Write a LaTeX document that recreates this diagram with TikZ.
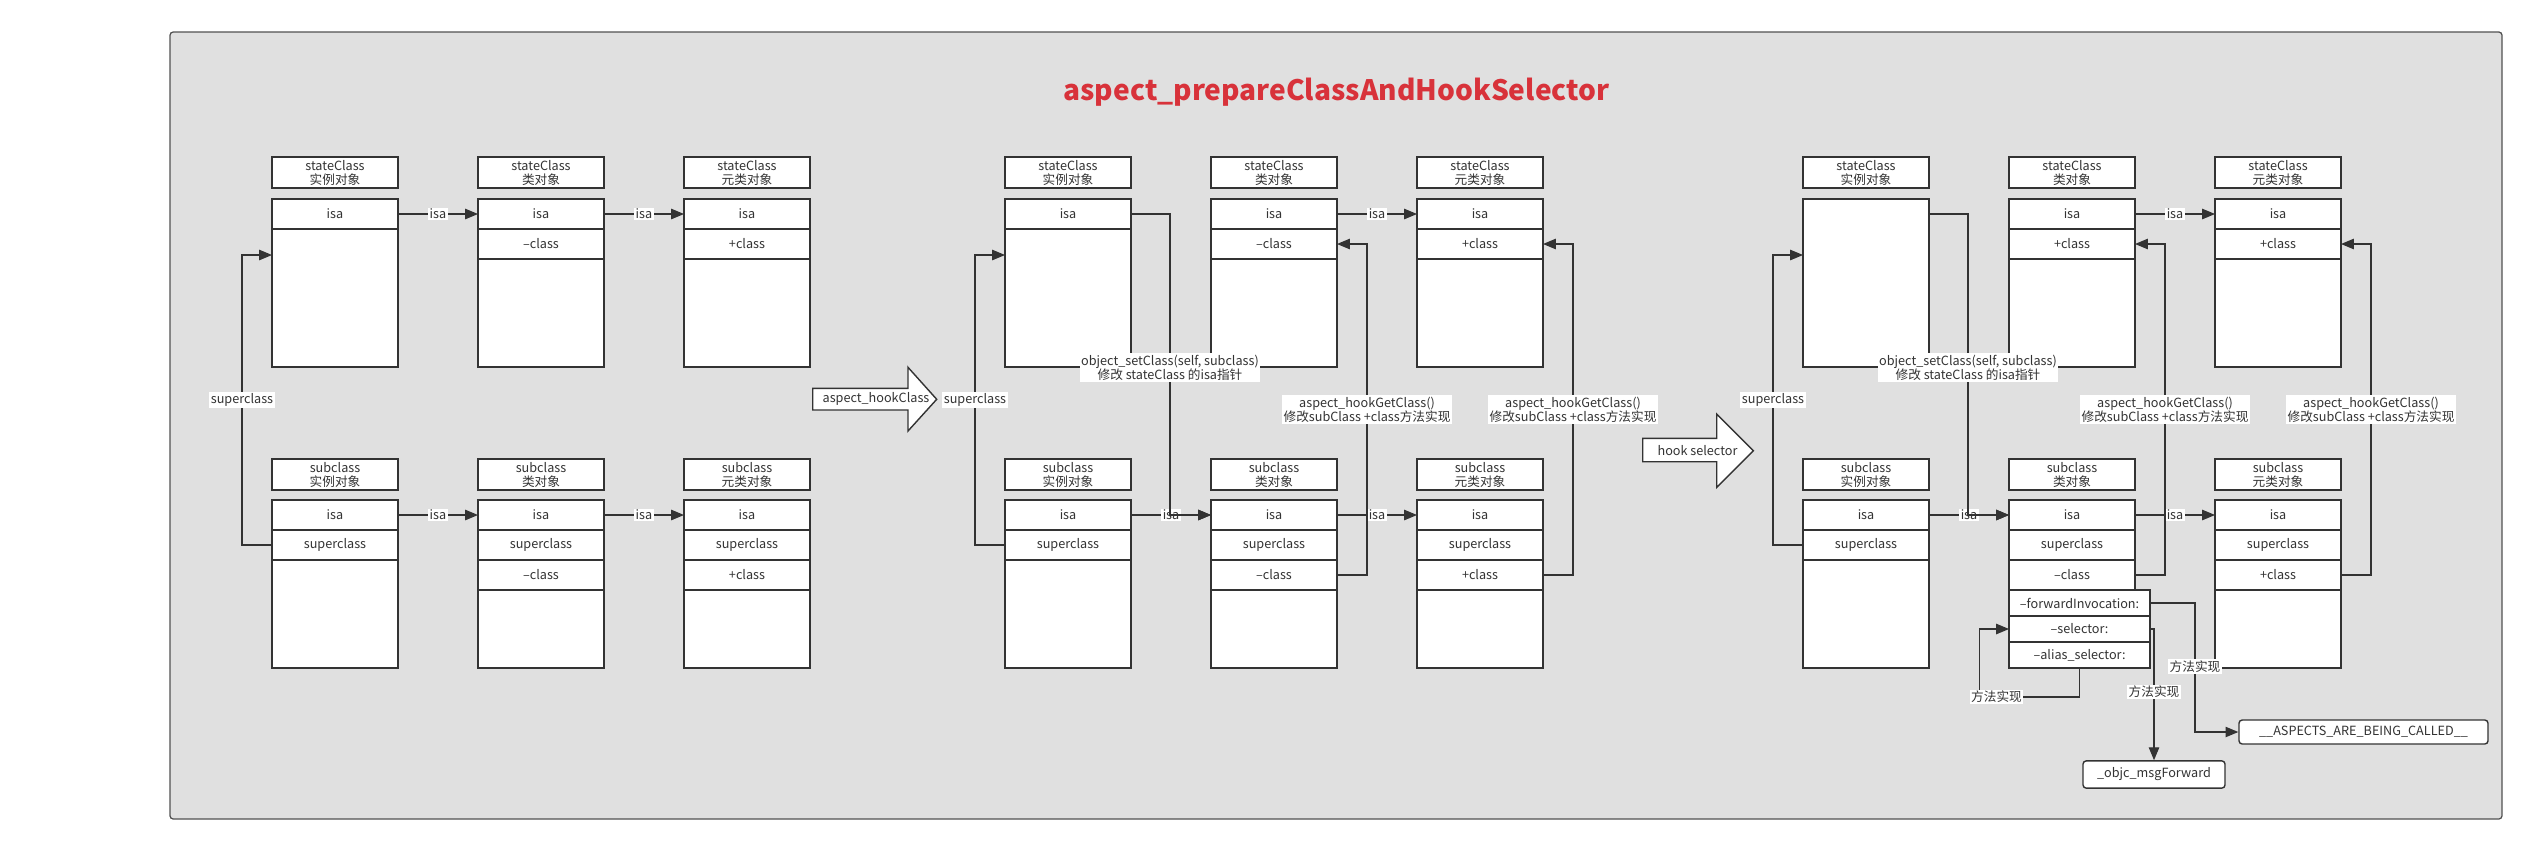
\documentclass[tikz,border=0pt]{standalone}
\usepackage{fontspec}
\setmainfont{Noto Sans CJK SC}
\usetikzlibrary{positioning,arrows.meta}

\definecolor{bgc}{HTML}{E0E0E0}
\definecolor{linec}{HTML}{333333}
\definecolor{titlec}{HTML}{D8323A}

\tikzset{
  outerframe/.style={draw=linec!85, fill=bgc, line width=0.9pt, rounded corners=0.8mm},
  namebox/.style={draw=linec, fill=white, text=linec, line width=1pt, minimum width=31.5mm, minimum height=7.75mm,
    inner sep=0pt, outer sep=0pt, align=center, font=\fontsize{9}{10}\selectfont},
  body/.style={draw=linec, fill=white, line width=1pt, minimum width=31.5mm, minimum height=42mm,
    inner sep=0pt, outer sep=0pt, anchor=north},
  rowbox/.style={draw=linec, fill=white, text=linec, line width=1pt, minimum width=31.5mm, minimum height=7.5mm,
    inner sep=0pt, outer sep=0pt, font=\fontsize{9}{10}\selectfont},
  widerow/.style={rowbox, minimum width=35.25mm, minimum height=6.5mm},
  conn/.style={draw=linec, line width=0.8pt, -{Triangle[length=3.2mm,width=2.6mm]}},
  tag/.style={fill=white, text=linec, inner sep=1pt, align=center, font=\fontsize{9}{10}\selectfont},
  endbox/.style={draw=linec, fill=white, text=linec, line width=1pt, rounded corners=0.8mm, inner sep=0pt,
    font=\fontsize{9}{10}\selectfont},
  bigarrow/.style={draw=linec, fill=white, line width=1pt, line join=miter},
}

\begin{document}
\begin{tikzpicture}[x=0.25mm, y=-0.25mm]
  \useasboundingbox (0,0) rectangle (2527,844);

  % 外框与标题
  \draw[outerframe] (170,32) rectangle (2502,819);
  \node[anchor=base, text=titlec, font=\fontsize{20}{24}\selectfont\bfseries] (title) at (1336.5,100.7)
    {aspect\_prepareClassAndHookSelector};

  % 三组对象
  \foreach \p/\ox in {A/0,B/733,C/1531} {
    \foreach \col/\dx/\kind in {i/0/实例对象, c/206/类对象, m/412/元类对象} {
      \node[namebox] (\p-s\col-t) at ({335+\ox+\dx},172.5) {stateClass\\\kind};
      \node[body] (\p-s\col) at ({335+\ox+\dx},199) {};
      \node[namebox] (\p-u\col-t) at ({335+\ox+\dx},474.5) {subclass\\\kind};
      \node[body] (\p-u\col) at ({335+\ox+\dx},500) {};
    }
  }

  % isa 行
  \foreach \n in {A-si,A-sc,A-sm,A-ui,A-uc,A-um,B-si,B-sc,B-sm,B-ui,B-uc,B-um,C-sc,C-sm,C-ui,C-uc,C-um}
    \node[rowbox, anchor=north] (\n-isa) at (\n.north) {isa};

  % superclass 行
  \foreach \n in {A-ui,A-uc,A-um,B-ui,B-uc,B-um,C-ui,C-uc,C-um}
    \node[rowbox, below=0pt of \n-isa] (\n-sup) {superclass};

  % class 方法行
  \foreach \n/\a/\t in {A-sc/isa/--class, A-sm/isa/+class, A-uc/sup/--class, A-um/sup/+class,
                        B-sc/isa/--class, B-sm/isa/+class, B-uc/sup/--class, B-um/sup/+class,
                        C-sc/isa/+class, C-sm/isa/+class, C-uc/sup/--class, C-um/sup/+class}
    \node[rowbox, below=0pt of \n-\a] (\n-cls) {\t};

  % hook 之后的方法
  \node[widerow, anchor=north west] (C-fwd) at (C-uc-cls.south west) {--forwardInvocation:};
  \node[widerow, below=0pt of C-fwd] (C-sel) {--selector:};
  \node[widerow, below=0pt of C-sel] (C-ali) {--alias\_selector:};

  \node[endbox, minimum width=62.25mm, minimum height=6mm] (aspects) at (2363.5,732) {\_\_ASPECTS\_ARE\_BEING\_CALLED\_\_};
  \node[endbox, minimum width=35.5mm, minimum height=6.8mm] (objc) at (2154,774.5) {\_objc\_msgForward};

  % isa 指针
  \foreach \a/\b in {A-si/A-sc, A-sc/A-sm, A-ui/A-uc, A-uc/A-um, B-sc/B-sm, B-ui/B-uc, B-uc/B-um,
                     C-sc/C-sm, C-ui/C-uc, C-uc/C-um}
    \draw[conn] (\a-isa) -- node[tag] {isa} (\b-isa);

  % superclass 指针
  \foreach \p in {A,B,C}
    \draw[conn] (\p-ui-sup.west) -- ++(-30,0) |- node[tag, pos=0.25] {superclass} ([yshift=-14mm]\p-si.north west);

  % object_setClass 与 aspect_hookGetClass
  \foreach \p in {B,C} {
    \draw[conn] ([yshift=-3.75mm]\p-si.north east) -- ++(39,0) |-
      node[tag, pos=0.255] {object\_setClass(self, subclass)\\修改 stateClass 的isa指针} (\p-uc-isa.west);
    \draw[conn] (\p-uc-cls.east) -- ++(30,0) |-
      node[tag, pos=0.25] {aspect\_hookGetClass()\\修改subClass +class方法实现} (\p-sc-cls.east);
    \draw[conn] (\p-um-cls.east) -- ++(30,0) |-
      node[tag, pos=0.25] {aspect\_hookGetClass()\\修改subClass +class方法实现} (\p-sm-cls.east);
  }

  % 方法实现
  \draw[conn] (C-fwd.east) -- ++(45,0) |- node[tag, pos=0.245] {方法实现} (aspects.west);
  \draw[conn] (C-sel.east) -| node[tag, pos=0.74] {方法实现} (objc.north);
  \draw[conn] (C-ali.south) -- ++(0,29) -- node[tag, pos=0.83] {方法实现} ++(-100,0) |- (C-sel.west);

  % 步骤箭头
  \draw[bigarrow] (812.7,388.3) -- (908,388.3) -- (908,367.3) -- (936.7,399.3) -- (908,431) -- (908,410)
    -- (812.7,410) -- cycle;
  \node[text=linec, font=\fontsize{9}{10}\selectfont] (hookcls) at (876,399.3) {aspect\_hookClass};
  \draw[bigarrow] (1642.7,438.3) -- (1716.7,438.3) -- (1716.7,414) -- (1753.3,450.7) -- (1716.7,487.3)
    -- (1716.7,461.7) -- (1642.7,461.7) -- cycle;
  \node[text=linec, font=\fontsize{9}{10}\selectfont] (hooksel) at (1697.5,450.7) {hook selector};
\end{tikzpicture}
\end{document}
